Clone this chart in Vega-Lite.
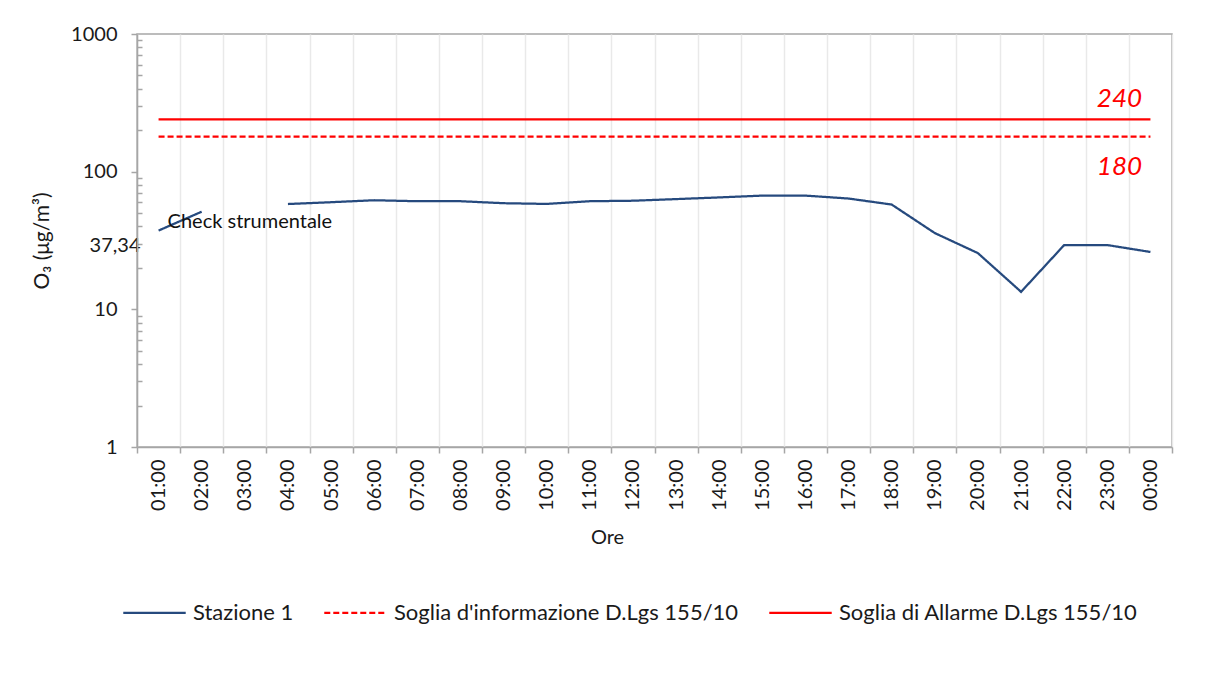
{
  "$schema": "https://vega.github.io/schema/vega-lite/v6.json",
  "width": 1035,
  "height": 413,
  "autosize": {"type": "none"},
  "padding": {"left": 137, "top": 34, "right": 33, "bottom": 250},
  "background": "white",
  "config": {
    "font": "Lato",
    "view": {"stroke": "#a6a6a6", "strokeWidth": 1.5},
    "axis": {"labelColor": "#1a1a1a", "titleColor": "#1a1a1a", "labelFontSize": 20, "titleFontSize": 20, "titleFontWeight": "normal", "domainColor": "#a6a6a6", "domainWidth": 1.5, "tickColor": "#a6a6a6", "tickWidth": 1.5},
    "legend": {"labelColor": "#1a1a1a"}
  },
  "datasets": {
    "serie": [
      {"ora": "01:00", "serie": "Stazione 1", "valore": 37.34},
      {"ora": "02:00", "serie": "Stazione 1", "valore": 51.2},
      {"ora": "03:00", "serie": "Stazione 1", "valore": null},
      {"ora": "04:00", "serie": "Stazione 1", "valore": 58.2},
      {"ora": "05:00", "serie": "Stazione 1", "valore": 60},
      {"ora": "06:00", "serie": "Stazione 1", "valore": 62},
      {"ora": "07:00", "serie": "Stazione 1", "valore": 61},
      {"ora": "08:00", "serie": "Stazione 1", "valore": 61},
      {"ora": "09:00", "serie": "Stazione 1", "valore": 59},
      {"ora": "10:00", "serie": "Stazione 1", "valore": 58.3},
      {"ora": "11:00", "serie": "Stazione 1", "valore": 61},
      {"ora": "12:00", "serie": "Stazione 1", "valore": 61.5},
      {"ora": "13:00", "serie": "Stazione 1", "valore": 63.2},
      {"ora": "14:00", "serie": "Stazione 1", "valore": 65},
      {"ora": "15:00", "serie": "Stazione 1", "valore": 67},
      {"ora": "16:00", "serie": "Stazione 1", "valore": 67},
      {"ora": "17:00", "serie": "Stazione 1", "valore": 63.8},
      {"ora": "18:00", "serie": "Stazione 1", "valore": 57.7},
      {"ora": "19:00", "serie": "Stazione 1", "valore": 35.8},
      {"ora": "20:00", "serie": "Stazione 1", "valore": 25.6},
      {"ora": "21:00", "serie": "Stazione 1", "valore": 13.4},
      {"ora": "22:00", "serie": "Stazione 1", "valore": 29.3},
      {"ora": "23:00", "serie": "Stazione 1", "valore": 29.3},
      {"ora": "00:00", "serie": "Stazione 1", "valore": 26.1},
      {"ora": "01:00", "serie": "Soglia d'informazione D.Lgs 155/10", "valore": 180},
      {"ora": "02:00", "serie": "Soglia d'informazione D.Lgs 155/10", "valore": 180},
      {"ora": "03:00", "serie": "Soglia d'informazione D.Lgs 155/10", "valore": 180},
      {"ora": "04:00", "serie": "Soglia d'informazione D.Lgs 155/10", "valore": 180},
      {"ora": "05:00", "serie": "Soglia d'informazione D.Lgs 155/10", "valore": 180},
      {"ora": "06:00", "serie": "Soglia d'informazione D.Lgs 155/10", "valore": 180},
      {"ora": "07:00", "serie": "Soglia d'informazione D.Lgs 155/10", "valore": 180},
      {"ora": "08:00", "serie": "Soglia d'informazione D.Lgs 155/10", "valore": 180},
      {"ora": "09:00", "serie": "Soglia d'informazione D.Lgs 155/10", "valore": 180},
      {"ora": "10:00", "serie": "Soglia d'informazione D.Lgs 155/10", "valore": 180},
      {"ora": "11:00", "serie": "Soglia d'informazione D.Lgs 155/10", "valore": 180},
      {"ora": "12:00", "serie": "Soglia d'informazione D.Lgs 155/10", "valore": 180},
      {"ora": "13:00", "serie": "Soglia d'informazione D.Lgs 155/10", "valore": 180},
      {"ora": "14:00", "serie": "Soglia d'informazione D.Lgs 155/10", "valore": 180},
      {"ora": "15:00", "serie": "Soglia d'informazione D.Lgs 155/10", "valore": 180},
      {"ora": "16:00", "serie": "Soglia d'informazione D.Lgs 155/10", "valore": 180},
      {"ora": "17:00", "serie": "Soglia d'informazione D.Lgs 155/10", "valore": 180},
      {"ora": "18:00", "serie": "Soglia d'informazione D.Lgs 155/10", "valore": 180},
      {"ora": "19:00", "serie": "Soglia d'informazione D.Lgs 155/10", "valore": 180},
      {"ora": "20:00", "serie": "Soglia d'informazione D.Lgs 155/10", "valore": 180},
      {"ora": "21:00", "serie": "Soglia d'informazione D.Lgs 155/10", "valore": 180},
      {"ora": "22:00", "serie": "Soglia d'informazione D.Lgs 155/10", "valore": 180},
      {"ora": "23:00", "serie": "Soglia d'informazione D.Lgs 155/10", "valore": 180},
      {"ora": "00:00", "serie": "Soglia d'informazione D.Lgs 155/10", "valore": 180},
      {"ora": "01:00", "serie": "Soglia di Allarme D.Lgs 155/10", "valore": 240},
      {"ora": "02:00", "serie": "Soglia di Allarme D.Lgs 155/10", "valore": 240},
      {"ora": "03:00", "serie": "Soglia di Allarme D.Lgs 155/10", "valore": 240},
      {"ora": "04:00", "serie": "Soglia di Allarme D.Lgs 155/10", "valore": 240},
      {"ora": "05:00", "serie": "Soglia di Allarme D.Lgs 155/10", "valore": 240},
      {"ora": "06:00", "serie": "Soglia di Allarme D.Lgs 155/10", "valore": 240},
      {"ora": "07:00", "serie": "Soglia di Allarme D.Lgs 155/10", "valore": 240},
      {"ora": "08:00", "serie": "Soglia di Allarme D.Lgs 155/10", "valore": 240},
      {"ora": "09:00", "serie": "Soglia di Allarme D.Lgs 155/10", "valore": 240},
      {"ora": "10:00", "serie": "Soglia di Allarme D.Lgs 155/10", "valore": 240},
      {"ora": "11:00", "serie": "Soglia di Allarme D.Lgs 155/10", "valore": 240},
      {"ora": "12:00", "serie": "Soglia di Allarme D.Lgs 155/10", "valore": 240},
      {"ora": "13:00", "serie": "Soglia di Allarme D.Lgs 155/10", "valore": 240},
      {"ora": "14:00", "serie": "Soglia di Allarme D.Lgs 155/10", "valore": 240},
      {"ora": "15:00", "serie": "Soglia di Allarme D.Lgs 155/10", "valore": 240},
      {"ora": "16:00", "serie": "Soglia di Allarme D.Lgs 155/10", "valore": 240},
      {"ora": "17:00", "serie": "Soglia di Allarme D.Lgs 155/10", "valore": 240},
      {"ora": "18:00", "serie": "Soglia di Allarme D.Lgs 155/10", "valore": 240},
      {"ora": "19:00", "serie": "Soglia di Allarme D.Lgs 155/10", "valore": 240},
      {"ora": "20:00", "serie": "Soglia di Allarme D.Lgs 155/10", "valore": 240},
      {"ora": "21:00", "serie": "Soglia di Allarme D.Lgs 155/10", "valore": 240},
      {"ora": "22:00", "serie": "Soglia di Allarme D.Lgs 155/10", "valore": 240},
      {"ora": "23:00", "serie": "Soglia di Allarme D.Lgs 155/10", "valore": 240},
      {"ora": "00:00", "serie": "Soglia di Allarme D.Lgs 155/10", "valore": 240}
    ],
    "note": [
      {"ora": "00:00", "valore": 240, "testo": "240", "tipo": "sopra"},
      {"ora": "00:00", "valore": 180, "testo": "180", "tipo": "sotto"},
      {"ora": "01:00", "valore": 37.34, "testo": "Check strumentale", "tipo": "check"}
    ]
  },
  "encoding": {
    "x": {
      "field": "ora",
      "type": "ordinal",
      "bandPosition": 0.5,
      "scale": {"type": "band", "domain": ["01:00","02:00","03:00","04:00","05:00","06:00","07:00","08:00","09:00","10:00","11:00","12:00","13:00","14:00","15:00","16:00","17:00","18:00","19:00","20:00","21:00","22:00","23:00","00:00"], "paddingInner": 0, "paddingOuter": 0},
      "axis": {"title": "Ore", "labelAngle": 270, "tickBand": "extent", "grid": true, "gridColor": "#e9e9e9", "gridWidth": 1.5, "tickSize": 6, "labelPadding": 6, "titleX": 470, "titleY": 80}
    },
    "y": {
      "field": "valore",
      "type": "quantitative",
      "scale": {"type": "log", "domain": [1, 1000]},
      "axis": {
        "title": "O₃ (μg/m³)",
        "titleFontSize": 21,
        "grid": false,
        "format": "d",
        "values": [1,2,3,4,5,6,7,8,9,10,20,30,40,50,60,70,80,90,100,200,300,400,500,600,700,800,900,1000],
        "labelExpr": "datum.value == 30 ? '37,34' : (indexof([1,10,100,1000], datum.value) >= 0 ? datum.label : '')",
        "labelOverlap": false,
        "tickSize": {"condition": {"test": "indexof([1,10,100,1000], datum.value) < 0", "value": -5}, "value": 6},
        "labelPadding": {"condition": {"test": "datum.value == 30", "value": 2}, "value": 14},
        "labelOffset": {"condition": {"test": "datum.value == 30", "value": 2}, "value": 0},
        "titlePadding": 18
      }
    }
  },
  "layer": [
    {
      "data": {"name": "serie"},
      "mark": {"type": "line", "strokeWidth": 2.25, "invalid": "break-paths-show-domains"},
      "encoding": {
        "order": {"value": null},
        "color": {
          "field": "serie",
          "type": "nominal",
          "scale": {"domain": ["Stazione 1", "Soglia d'informazione D.Lgs 155/10", "Soglia di Allarme D.Lgs 155/10"], "range": ["#264a7e", "#ff0000", "#ff0000"]},
          "legend": {"title": null, "orient": "none", "legendX": -15, "legendY": 546, "direction": "horizontal", "symbolType": "stroke", "symbolSize": 3900, "symbolStrokeWidth": 2.25, "labelFontSize": 22, "labelOffset": 6, "columnPadding": 25, "labelLimit": 0}
        },
        "strokeDash": {
          "field": "serie",
          "type": "nominal",
          "scale": {"domain": ["Stazione 1", "Soglia d'informazione D.Lgs 155/10", "Soglia di Allarme D.Lgs 155/10"], "range": [[1, 0], [6, 3], [1, 0]]},
          "legend": {"title": null, "orient": "none", "legendX": -15, "legendY": 546, "direction": "horizontal", "symbolType": "stroke", "symbolSize": 3900, "symbolStrokeWidth": 2.25, "labelFontSize": 22, "labelOffset": 6, "columnPadding": 25, "labelLimit": 0}
        }
      }
    },
    {
      "data": {"name": "note"},
      "transform": [{"filter": "datum.tipo == 'sopra'"}],
      "mark": {"type": "text", "color": "#ff0000", "fontStyle": "italic", "fontSize": 26, "dx": -31, "dy": -20},
      "encoding": {"text": {"field": "testo"}}
    },
    {
      "data": {"name": "note"},
      "transform": [{"filter": "datum.tipo == 'sotto'"}],
      "mark": {"type": "text", "color": "#ff0000", "fontStyle": "italic", "fontSize": 26, "dx": -31, "dy": 30},
      "encoding": {"text": {"field": "testo"}}
    },
    {
      "data": {"name": "note"},
      "transform": [{"filter": "datum.tipo == 'check'"}],
      "mark": {"type": "text", "color": "#111111", "fontSize": 20, "align": "left", "dx": 9, "dy": -9},
      "encoding": {"text": {"field": "testo"}}
    }
  ]
}
